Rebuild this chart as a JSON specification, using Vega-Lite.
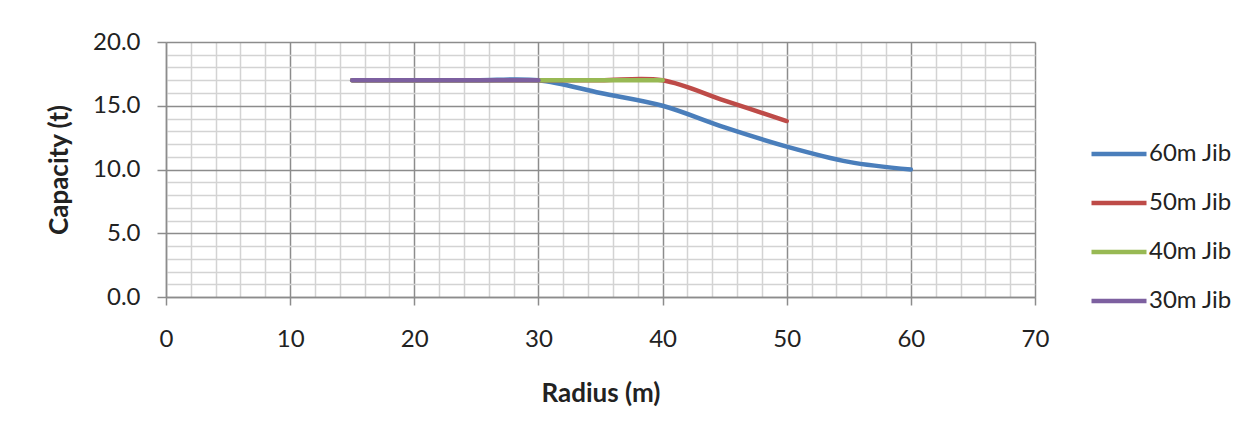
{
  "$schema": "https://vega.github.io/schema/vega-lite/v6.json",
  "width": 869,
  "height": 255,
  "autosize": {"type": "none"},
  "padding": {"left": 166, "top": 42, "right": 212, "bottom": 135},
  "background": "white",
  "data": {
    "values": [
      {"jib": "60m Jib", "radius": 15, "capacity": 17},
      {"jib": "60m Jib", "radius": 20, "capacity": 17},
      {"jib": "60m Jib", "radius": 25, "capacity": 17},
      {"jib": "60m Jib", "radius": 30, "capacity": 17},
      {"jib": "60m Jib", "radius": 35, "capacity": 16},
      {"jib": "60m Jib", "radius": 40, "capacity": 15},
      {"jib": "60m Jib", "radius": 45, "capacity": 13.3},
      {"jib": "60m Jib", "radius": 50, "capacity": 11.8},
      {"jib": "60m Jib", "radius": 55, "capacity": 10.6},
      {"jib": "60m Jib", "radius": 60, "capacity": 10},
      {"jib": "50m Jib", "radius": 15, "capacity": 17},
      {"jib": "50m Jib", "radius": 20, "capacity": 17},
      {"jib": "50m Jib", "radius": 25, "capacity": 17},
      {"jib": "50m Jib", "radius": 30, "capacity": 17},
      {"jib": "50m Jib", "radius": 35, "capacity": 17},
      {"jib": "50m Jib", "radius": 40, "capacity": 17},
      {"jib": "50m Jib", "radius": 45, "capacity": 15.4},
      {"jib": "50m Jib", "radius": 50, "capacity": 13.8},
      {"jib": "40m Jib", "radius": 15, "capacity": 17},
      {"jib": "40m Jib", "radius": 20, "capacity": 17},
      {"jib": "40m Jib", "radius": 25, "capacity": 17},
      {"jib": "40m Jib", "radius": 30, "capacity": 17},
      {"jib": "40m Jib", "radius": 35, "capacity": 17},
      {"jib": "40m Jib", "radius": 40, "capacity": 17},
      {"jib": "30m Jib", "radius": 15, "capacity": 17},
      {"jib": "30m Jib", "radius": 20, "capacity": 17},
      {"jib": "30m Jib", "radius": 25, "capacity": 17},
      {"jib": "30m Jib", "radius": 30, "capacity": 17}
    ]
  },
  "mark": {
    "type": "line",
    "interpolate": "cardinal",
    "strokeWidth": 4.5,
    "strokeCap": "round",
    "strokeJoin": "round"
  },
  "encoding": {
    "x": {
      "field": "radius",
      "type": "quantitative",
      "scale": {"domain": [0, 70], "nice": false},
      "axis": {
        "title": "Radius (m)",
        "values": [0, 2, 4, 6, 8, 10, 12, 14, 16, 18, 20, 22, 24, 26, 28, 30, 32, 34, 36, 38, 40, 42, 44, 46, 48, 50, 52, 54, 56, 58, 60, 62, 64, 66, 68, 70],
        "labelExpr": "datum.value % 10 === 0 ? datum.label : ''",
        "labelOverlap": false,
        "labelFlush": false,
        "labelPadding": 22,
        "tickSize": 8,
        "tickOpacity": {"condition": {"test": "datum.value % 10 === 0", "value": 1}, "value": 0},
        "gridColor": {"condition": {"test": "datum.value % 10 === 0", "value": "#8c8c8c"}, "value": "#d3d3d3"},
        "titlePadding": 29
      }
    },
    "y": {
      "field": "capacity",
      "type": "quantitative",
      "scale": {"domain": [0, 20], "nice": false},
      "axis": {
        "title": "Capacity (t)",
        "values": [0, 1, 2, 3, 4, 5, 6, 7, 8, 9, 10, 11, 12, 13, 14, 15, 16, 17, 18, 19, 20],
        "labelExpr": "datum.value % 5 === 0 ? format(datum.value, '.1f') : ''",
        "labelOverlap": false,
        "labelFlush": false,
        "labelPadding": 17,
        "tickSize": 9,
        "tickOpacity": {"condition": {"test": "datum.value % 5 === 0", "value": 1}, "value": 0},
        "gridColor": {"condition": {"test": "datum.value % 5 === 0", "value": "#8c8c8c"}, "value": "#d3d3d3"},
        "titlePadding": 20
      }
    },
    "color": {
      "field": "jib",
      "type": "nominal",
      "sort": ["60m Jib", "50m Jib", "40m Jib", "30m Jib"],
      "scale": {
        "domain": ["60m Jib", "50m Jib", "40m Jib", "30m Jib"],
        "range": ["#4a7ebb", "#be4b48", "#98b954", "#7d60a0"]
      },
      "legend": {
        "title": null,
        "orient": "none",
        "legendX": 923,
        "legendY": 82,
        "padding": 0,
        "symbolType": "stroke",
        "symbolSize": 3025,
        "symbolStrokeWidth": 4.5,
        "rowPadding": 7,
        "labelOffset": 0
      }
    }
  },
  "config": {
    "font": "Lato",
    "view": {"stroke": null},
    "axis": {
      "labelFont": "Lato",
      "labelFontSize": 24,
      "labelColor": "#222222",
      "titleFont": "Lato",
      "titleFontSize": 26,
      "titleFontWeight": "bold",
      "titleColor": "#222222",
      "domainColor": "#8c8c8c",
      "domainWidth": 1.5,
      "tickColor": "#8c8c8c",
      "tickWidth": 1.5,
      "gridWidth": 1.5
    },
    "legend": {
      "labelFont": "Lato",
      "labelFontSize": 24,
      "labelColor": "#222222"
    }
  }
}
